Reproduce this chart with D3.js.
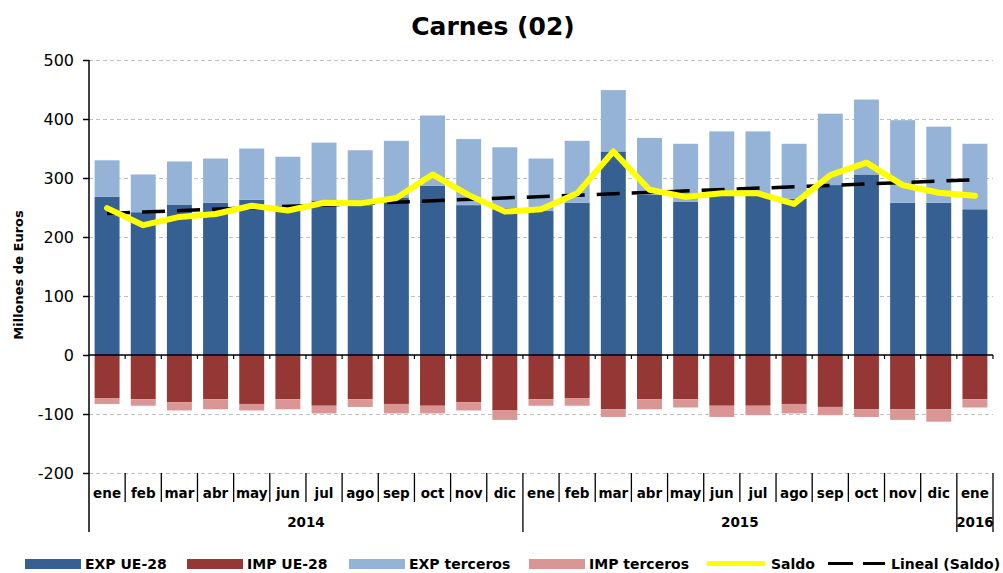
<!DOCTYPE html>
<html>
<head>
<meta charset="utf-8">
<script src="https://cdn.jsdelivr.net/npm/d3@7"></script>
<style>
  html, body { margin: 0; padding: 0; background: #fff; }
  svg { display: block; font-family: "DejaVu Sans", Verdana, sans-serif; }
</style>
</head>
<body>
<svg id="chart" width="1003" height="573"></svg>
<script>
// ---- Data ----
const months = ["ene","feb","mar","abr","may","jun","jul","ago","sep","oct","nov","dic",
                "ene","feb","mar","abr","may","jun","jul","ago","sep","oct","nov","dic",
                "ene"];
const years = [
  { label: "2014", start: 0, end: 12 },
  { label: "2015", start: 12, end: 24 },
  { label: "2016", start: 24, end: 25 }
];
const expUE      = [268, 242, 255, 258, 263, 253, 262, 254, 267, 287, 254, 249,
                    244, 258, 345, 272, 260, 274, 272, 265, 288, 306, 258, 258, 247];
const expTerceros = [62, 64, 73, 75, 87, 83, 98, 93, 96, 119, 112, 103,
                     89, 105, 104, 96, 98, 105, 107, 93, 121, 127, 140, 129, 111];
const impUE      = [-73, -75, -80, -75, -83, -75, -86, -75, -83, -86, -80, -94,
                    -75, -73, -92, -75, -75, -86, -86, -83, -88, -92, -92, -92, -75];
const impTerceros = [-10, -11, -14, -17, -11, -17, -13, -13, -16, -13, -14, -16,
                     -11, -13, -13, -17, -14, -19, -16, -16, -14, -13, -18, -21, -14];
const saldo      = [249, 220, 234, 239, 253, 245, 258, 257, 266, 306, 271, 243,
                    247, 274, 345, 280, 268, 274, 274, 256, 305, 326, 288, 275, 270];
const trendEnds  = [240, 297];   // Lineal (Saldo) at first and last month
const yTicks     = [-200, -100, 0, 100, 200, 300, 400, 500];

const colors = {
  expUE: "#366092", impUE: "#953735", expTer: "#95B3D7", impTer: "#D99694",
  saldo: "#FFFF00", trend: "#000000"
};

// ---- Layout ----
const svg = d3.select("#chart");
const plot = { left: 89, right: 993, top: 60, bottom: 473 };

const x = d3.scaleBand()
  .domain(d3.range(months.length))
  .range([plot.left, plot.right])
  .paddingInner(0.31)
  .paddingOuter(0.155);
const step = x.step();
const xb = i => plot.left + i * step;   // category boundary
const xc = i => x(i) + x.bandwidth() / 2;

const y = d3.scaleLinear().domain([-200, 500]).range([plot.bottom, plot.top]);

// Title
svg.append("text")
  .attr("x", 493).attr("y", 35)
  .attr("text-anchor", "middle")
  .attr("font-size", 25).attr("font-weight", "bold")
  .text("Carnes (02)");

// Gridlines
svg.append("g").selectAll("line")
  .data(yTicks.filter(v => v !== 0))
  .join("line")
  .attr("x1", plot.left).attr("x2", plot.right)
  .attr("y1", d => Math.round(y(d)) + 0.5).attr("y2", d => Math.round(y(d)) + 0.5)
  .attr("stroke", "#BFBFBF").attr("stroke-width", 1)
  .attr("stroke-dasharray", "4,3");

// Bars
const barData = [];
months.forEach((m, i) => {
  barData.push({ i, y0: 0, y1: expUE[i], c: colors.expUE });
  barData.push({ i, y0: expUE[i], y1: expUE[i] + expTerceros[i], c: colors.expTer });
  barData.push({ i, y0: 0, y1: impUE[i], c: colors.impUE });
  barData.push({ i, y0: impUE[i], y1: impUE[i] + impTerceros[i], c: colors.impTer });
});
svg.append("g").selectAll("rect")
  .data(barData)
  .join("rect")
  .attr("x", d => x(d.i))
  .attr("width", x.bandwidth())
  .attr("y", d => y(Math.max(d.y0, d.y1)))
  .attr("height", d => Math.abs(y(d.y0) - y(d.y1)))
  .attr("fill", d => d.c);

// Y axis
const yAxis = d3.axisLeft(y).tickValues(yTicks).tickFormat(d => String(d))
  .tickSize(6).tickPadding(9);
const gy = svg.append("g")
  .attr("transform", `translate(${plot.left},0)`)
  .call(yAxis);
gy.select(".domain").remove();
gy.selectAll(".tick line").attr("stroke", "#000").attr("stroke-width", 1.5);
gy.selectAll(".tick text")
  .attr("font-size", 16).attr("fill", "#000")
  .attr("font-family", "DejaVu Sans, Verdana, sans-serif");
svg.append("line")
  .attr("x1", plot.left).attr("x2", plot.left)
  .attr("y1", plot.top).attr("y2", 532)
  .attr("stroke", "#000").attr("stroke-width", 1.5);

// Y axis title
svg.append("text")
  .attr("transform", "translate(23,275) rotate(-90)")
  .attr("text-anchor", "middle")
  .attr("font-size", 13).attr("font-weight", "bold")
  .text("Millones de Euros");

// Zero line + small ticks
svg.append("line")
  .attr("x1", plot.left).attr("x2", plot.right)
  .attr("y1", y(0)).attr("y2", y(0))
  .attr("stroke", "#000").attr("stroke-width", 1.5);
svg.append("g").selectAll("line")
  .data(d3.range(1, months.length + 1))
  .join("line")
  .attr("x1", d => xb(d)).attr("x2", d => xb(d))
  .attr("y1", y(0)).attr("y2", y(0) + 4)
  .attr("stroke", "#000").attr("stroke-width", 1.2);

// Category separators
const longBounds = new Set([0]);
years.forEach(yr => { longBounds.add(yr.start); longBounds.add(yr.end); });
svg.append("g").selectAll("line")
  .data(d3.range(1, months.length + 1))
  .join("line")
  .attr("x1", d => xb(d)).attr("x2", d => xb(d))
  .attr("y1", plot.bottom)
  .attr("y2", d => longBounds.has(d) ? 532 : 502)
  .attr("stroke", "#000").attr("stroke-width", 1.3);

// Month labels
svg.append("g").selectAll("text")
  .data(months)
  .join("text")
  .attr("x", (d, i) => xc(i))
  .attr("y", 498)
  .attr("text-anchor", "middle")
  .attr("font-size", 13.5).attr("font-weight", "bold")
  .text(d => d);

// Year labels
svg.append("g").selectAll("text")
  .data(years)
  .join("text")
  .attr("x", d => (xb(d.start) + xb(d.end)) / 2)
  .attr("y", 527)
  .attr("text-anchor", "middle")
  .attr("font-size", 13.5).attr("font-weight", "bold")
  .text(d => d.label);

// Trend line
svg.append("line")
  .attr("x1", xc(0)).attr("y1", y(trendEnds[0]))
  .attr("x2", xc(months.length - 1)).attr("y2", y(trendEnds[1]))
  .attr("stroke", colors.trend).attr("stroke-width", 3.5)
  .attr("stroke-dasharray", "23,12");

// Saldo line
svg.append("path")
  .datum(saldo)
  .attr("d", d3.line().x((d, i) => xc(i)).y(d => y(d)))
  .attr("fill", "none")
  .attr("stroke", colors.saldo).attr("stroke-width", 6)
  .attr("stroke-linejoin", "round").attr("stroke-linecap", "round");

// Legend
const legend = [
  { type: "rect", c: colors.expUE, label: "EXP UE-28", x: 25 },
  { type: "rect", c: colors.impUE, label: "IMP UE-28", x: 187 },
  { type: "rect", c: colors.expTer, label: "EXP terceros", x: 349 },
  { type: "rect", c: colors.impTer, label: "IMP terceros", x: 529 },
  { type: "line", c: colors.saldo, label: "Saldo", x: 707 },
  { type: "dash", c: colors.trend, label: "Lineal (Saldo)", x: 828 }
];
const lg = svg.append("g");
const legY = 559;
legend.forEach(d => {
  if (d.type === "rect") {
    lg.append("rect").attr("x", d.x).attr("y", legY).attr("width", 56).attr("height", 10).attr("fill", d.c);
  } else if (d.type === "line") {
    lg.append("line").attr("x1", d.x).attr("x2", d.x + 58).attr("y1", legY + 4.5).attr("y2", legY + 4.5)
      .attr("stroke", d.c).attr("stroke-width", 5);
  } else {
    lg.append("line").attr("x1", d.x).attr("x2", d.x + 57).attr("y1", legY + 4.5).attr("y2", legY + 4.5)
      .attr("stroke", d.c).attr("stroke-width", 3).attr("stroke-dasharray", "25,10");
  }
  const tx = d.type === "rect" ? d.x + 60 : (d.type === "line" ? d.x + 64 : d.x + 63);
  lg.append("text").attr("x", tx).attr("y", legY + 10)
    .attr("font-size", 14).attr("font-weight", "bold")
    .text(d.label);
});
</script>
</body>
</html>
